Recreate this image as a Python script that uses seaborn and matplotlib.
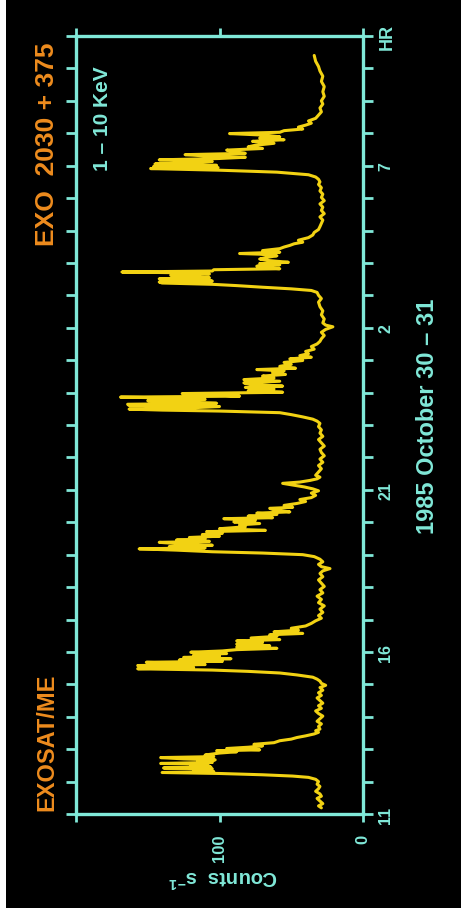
import matplotlib
matplotlib.use("Agg")
import matplotlib.pyplot as plt
from matplotlib.patches import Rectangle
import pandas as pd
import seaborn as sns

# ---- data (hours since 0h Oct 30; counts s^-1, 1-10 keV) ----
hours = [
    11.19, 11.25, 11.32, 11.40, 11.48, 11.55, 11.62, 11.70, 11.78, 11.85, 11.92, 12.00, 12.07,
    12.13, 12.17, 12.21, 12.25,
    12.28, 12.31, 12.35, 12.39, 12.42, 12.45, 12.49, 12.53, 12.56, 12.59, 12.63, 12.67, 12.70, 12.74,
    12.77, 12.82, 12.88, 12.92, 12.95, 12.98, 13.02, 13.06, 13.10, 13.15, 13.20, 13.26, 13.31, 13.36,
    13.41, 13.47, 13.52, 13.57, 13.62,
    13.70, 13.78, 13.86, 13.94, 14.02, 14.10, 14.18, 14.26, 14.34, 14.42, 14.50, 14.58, 14.66, 14.74,
    14.82, 14.90, 14.97, 15.03, 15.10,
    15.16, 15.22, 15.29, 15.35, 15.40, 15.44, 15.48, 15.52, 15.55, 15.58, 15.61, 15.64, 15.68, 15.71,
    15.75, 15.79, 15.83, 15.87, 15.91, 15.95, 15.99, 16.03, 16.07, 16.11, 16.15, 16.19, 16.24, 16.29,
    16.34, 16.38, 16.43, 16.48, 16.53, 16.57, 16.62, 16.67, 16.73, 16.80, 16.88, 16.96, 17.04,
    17.12, 17.22, 17.32, 17.42, 17.52, 17.62, 17.72, 17.82, 17.92, 18.02, 18.12, 18.22, 18.32, 18.42,
    18.50, 18.57, 18.63, 18.70, 18.78, 18.86,
    18.94, 19.00, 19.05, 19.09, 19.14, 19.18, 19.21, 19.25, 19.29, 19.33, 19.38, 19.41, 19.45, 19.49,
    19.53, 19.57, 19.62, 19.66, 19.71, 19.75, 19.80, 19.86, 19.92, 19.96, 20.01, 20.06, 20.11, 20.14,
    20.19, 20.24, 20.28, 20.32, 20.38, 20.43, 20.46, 20.52, 20.58, 20.64, 20.70, 20.76, 20.83, 20.90,
    20.97, 21.03, 21.09, 21.14, 21.20, 21.24, 21.29, 21.34, 21.39,
    21.45, 21.55, 21.65, 21.75, 21.85, 21.95, 22.05, 22.15, 22.25, 22.35, 22.45, 22.55, 22.65, 22.75,
    22.85, 22.95, 23.05, 23.12,
    23.18, 23.25, 23.32, 23.38, 23.43, 23.46, 23.49, 23.53, 23.57, 23.60, 23.64, 23.67, 23.71, 23.75,
    23.79, 23.83, 23.86, 23.89, 23.93, 23.97, 24.01, 24.06, 24.11, 24.16, 24.20, 24.25, 24.30, 24.35,
    24.40, 24.45, 24.51, 24.56, 24.61, 24.67, 24.71, 24.75, 24.81, 24.87, 24.93, 24.99, 25.04, 25.09,
    25.14, 25.20, 25.27, 25.34, 25.42, 25.50, 25.58, 25.66, 25.76, 25.86, 25.95, 26.03, 26.08, 26.15,
    26.27, 26.40, 26.52, 26.65, 26.79, 26.90, 27.00, 27.09,
    27.15, 27.20, 27.25, 27.30, 27.34, 27.38, 27.41, 27.44, 27.47, 27.51, 27.54, 27.58, 27.62, 27.66,
    27.69, 27.72, 27.75, 27.79, 27.82, 27.86, 27.90, 27.94, 27.98, 28.02, 28.07, 28.12, 28.17, 28.22,
    28.27, 28.29, 28.33, 28.38, 28.44, 28.49, 28.54, 28.59, 28.64, 28.70, 28.78, 28.86, 28.94, 29.03,
    29.12, 29.22,
    29.32, 29.42, 29.52, 29.62, 29.72, 29.82, 29.92, 30.02, 30.12, 30.22, 30.32, 30.42, 30.50,
    30.58, 30.65, 30.72, 30.80, 30.86, 30.91, 30.94, 30.97, 31.01, 31.05, 31.09, 31.13, 31.18, 31.22,
    31.26, 31.30, 31.34, 31.38, 31.43, 31.48, 31.53, 31.58, 31.63, 31.69, 31.75, 31.80, 31.85, 31.89,
    31.94, 31.99, 32.03, 32.08, 32.13, 32.19, 32.25, 32.31, 32.38, 32.46, 32.56, 32.66, 32.78, 32.90,
    33.00, 33.14, 33.28, 33.44, 33.60, 33.76, 33.92, 34.06, 34.22, 34.40,
]
counts = [
    29, 31, 28, 30, 32, 29, 30, 33, 31, 30, 32, 31, 33,
    38, 49, 70, 100,
    140, 104, 118, 105, 139, 106, 120, 108, 141, 105, 115, 103, 125, 141,
    104, 110, 100, 88, 102, 72, 95, 80, 70, 76, 62, 58, 50, 46,
    40, 34, 31, 33, 30,
    31, 29, 32, 30, 28, 31, 33, 29, 31, 28, 30, 32, 29, 31,
    28, 30, 26, 29, 30,
    32, 35, 46, 58, 80, 105, 157, 118, 150, 157, 110, 121, 151, 98,
    128, 92, 125, 100, 118, 95, 120, 98, 88, 60, 88, 65, 88, 70,
    88, 58, 78, 60, 65, 42, 62, 45, 50, 40, 36, 33, 29,
    31, 28, 30, 27, 31, 29, 32, 28, 30, 27, 29, 31, 28, 30,
    28, 23, 29, 31, 28, 30,
    34, 42, 70, 105, 130, 156, 110, 135, 105, 125, 142, 107, 130, 110,
    121, 100, 112, 98, 109, 68, 100, 82, 86, 72, 90, 75, 97, 63,
    80, 60, 74, 51, 62, 65, 49, 55, 46, 40, 44, 36, 33, 36,
    31, 35, 41, 48, 56, 44, 37, 32, 30,
    33, 31, 29, 31, 28, 30, 27, 29, 30, 27, 29, 31, 28, 30,
    29, 31, 30, 32,
    35, 42, 50, 58, 100, 140, 163, 120, 100, 163, 164, 102, 125, 150,
    110, 130, 169, 86, 105, 126, 56, 80, 62, 82, 56, 78, 83, 58,
    83, 62, 70, 54, 63, 55, 74, 47, 58, 50, 55, 42, 51, 36,
    44, 38, 40, 34, 36, 32, 30, 29, 27, 29, 26, 21, 26, 28,
    27, 29, 28, 30, 31, 29, 31, 32,
    36, 50, 70, 88, 105, 140, 142, 105, 120, 142, 107, 122, 134, 107,
    118, 168, 105, 104, 58, 70, 74, 58, 72, 52, 65, 72, 67, 60,
    72, 86, 58, 70, 58, 55, 51, 48, 42, 45, 38, 35, 34, 31,
    30, 29,
    28, 30, 27, 29, 28, 30, 27, 29, 28, 30, 29, 31, 30,
    31, 33, 38, 60, 100, 148, 101, 146, 102, 145, 120, 105, 142, 101,
    82, 110, 124, 82, 90, 95, 70, 80, 75, 62, 77, 55, 72, 58,
    68, 93, 58, 55, 42, 45, 40, 36, 38, 33, 31, 29, 30, 28,
    29, 27, 28, 27, 29, 28, 30, 31, 33, 34,
]

time_ticks = list(range(11, 36))
time_tick_labels = {11: "11", 16: "16", 21: "21", 26: "2", 31: "7", 35: "HR"}
count_ticks = [0, 100, 200]
count_tick_labels = ["0", "100", ""]

source_name = "EXO  2030 + 375"
instrument = "EXOSAT/ME"
energy_band = "1 \u2013 10 KeV"
date_text = "1985 October 30 \u2013 31"
count_label = r"Counts  s$^{\mathbf{-1}}$"

CYAN = "#80e8d8"
ORANGE = "#ee8c1e"
YELLOW = "#f2d213"

sns.set_theme(style="ticks", rc={"axes.facecolor": "black", "figure.facecolor": "white"})
plt.rcParams["font.family"] = ["Liberation Sans", "DejaVu Sans"]
plt.rcParams["mathtext.fontset"] = "custom"
plt.rcParams["mathtext.rm"] = "Liberation Sans"
plt.rcParams["mathtext.bf"] = "Liberation Sans:bold"

W, H = 461, 920
fig = plt.figure(figsize=(W / 100, H / 100), dpi=100)
fig.add_artist(Rectangle((6 / W, 11 / H), 1, 1, transform=fig.transFigure,
                         facecolor="black", edgecolor="none", zorder=-10))

L, R, T, B = 76, 363, 37, 815
ax = fig.add_axes([L / W, 1 - B / H, (R - L) / W, (B - T) / H])
ax.set_facecolor("black")

df = pd.DataFrame({"hour": hours, "counts": counts})
sns.lineplot(data=df, x="counts", y="hour", sort=False, estimator=None, orient="y",
             color=YELLOW, linewidth=2.2, ax=ax)

ax.set_xlim(200, 0)
ax.set_ylim(11, 35)
ax.set_xlabel("")
ax.set_ylabel("")
ax.grid(False)
for s in ax.spines.values():
    s.set_color(CYAN)
    s.set_linewidth(2.4)
    s.set_visible(True)

ax.set_yticks(time_ticks)
ax.set_yticklabels([time_tick_labels.get(t, "") for t in time_ticks])
ax.tick_params(axis="y", left=True, right=True, labelleft=False, labelright=True,
               direction="out", length=7, width=2, color=CYAN, labelcolor=CYAN,
               labelsize=11.5, pad=4)
for lab in ax.get_yticklabels():
    lab.set_rotation(90)
    lab.set_va("center")
    lab.set_fontweight("bold")
    if lab.get_text() == "HR":
        lab.set_fontsize(13)

ax.set_xticks(count_ticks)
ax.set_xticklabels(count_tick_labels)
ax.tick_params(axis="x", bottom=True, top=True, labeltop=False, labelbottom=True,
               direction="out", length=6, width=2, color=CYAN, labelcolor=CYAN,
               labelsize=12, pad=8)
for lab in ax.get_xticklabels():
    lab.set_rotation(90)
    lab.set_fontweight("bold")

def fx(px):
    return px / W

def fy(py):
    return 1 - py / H

fig.text(fx(47), fy(144), source_name, rotation=90, ha="center", va="center",
         color=ORANGE, fontsize=19, fontweight="bold")
fig.text(fx(47), fy(742), instrument, rotation=90, ha="center", va="center",
         color=ORANGE, fontsize=17, fontweight="bold")
fig.text(fx(102), fy(119), energy_band, rotation=90, ha="center", va="center",
         color=CYAN, fontsize=15, fontweight="bold")
fig.text(fx(427), fy(416), date_text, rotation=90, ha="center", va="center",
         color=CYAN, fontsize=17, fontweight="bold")
fig.text(fx(223), fy(877), count_label, rotation=180, ha="center", va="center",
         color=CYAN, fontsize=14.5, fontweight="bold")

fig.savefig("out.png", dpi=100)
